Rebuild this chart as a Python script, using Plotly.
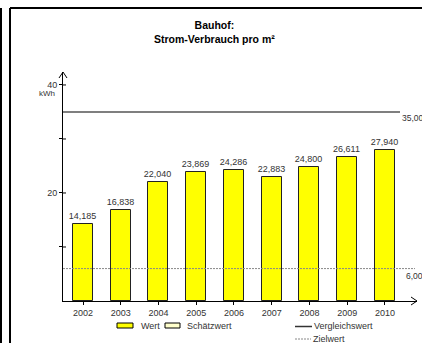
import plotly.graph_objects as go

years = ["2002", "2003", "2004", "2005", "2006", "2007", "2008", "2009", "2010"]
values = [14.185, 16.838, 22.040, 23.869, 24.286, 22.883, 24.800, 26.611, 27.940]
vergleichswert = 35.0
zielwert = 6.0
y_tickvals = [10, 20, 30, 40]
y_ticktext = ["", "20", "", "40"]

W, H = 422, 343
L, R, T, B = 63, 5, 72, 42
PW, PH = W - L - R, H - T - B

def px(x):
    return (x - L) / PW

def py(y):
    return (H - B - y) / PH

def fmt(v):
    return f"{v:.3f}".replace(".", ",")

FAM = "Arial, Liberation Sans"
xi = list(range(len(years)))
fig = go.Figure()
fig.add_trace(go.Bar(
    x=xi, y=values, width=0.53,
    marker=dict(color="#FFFF00", line=dict(color="#222222", width=1)),
    text=[fmt(v) for v in values], textposition="outside", constraintext="none",
    textfont=dict(family=FAM, size=9, color="#333333"),
    cliponaxis=False, showlegend=False,
))

shapes = []
shapes.append(dict(type="line", xref="paper", yref="y", x0=0, x1=px(400), y0=vergleichswert, y1=vergleichswert,
                   line=dict(color="#555555", width=1.5)))
shapes.append(dict(type="line", xref="paper", yref="y", x0=0, x1=px(415), y0=zielwert, y1=zielwert,
                   line=dict(color="#888888", width=1, dash="2px,1px")))
for v in y_tickvals:
    shapes.append(dict(type="line", xref="paper", yref="y", x0=0, x1=3 / PW, y0=v, y1=v,
                       line=dict(color="black", width=1)))
shapes.append(dict(type="line", xref="paper", yref="paper", x0=0, x1=-4 / PW, y0=1, y1=1 - 6 / PH,
                   line=dict(color="black", width=1)))
shapes.append(dict(type="line", xref="paper", yref="paper", x0=0, x1=4 / PW, y0=1, y1=1 - 6 / PH,
                   line=dict(color="black", width=1)))
shapes.append(dict(type="line", xref="paper", yref="paper", x0=1, x1=1 - 6 / PW, y0=0, y1=4 / PH,
                   line=dict(color="black", width=1)))
shapes.append(dict(type="line", xref="paper", yref="paper", x0=1, x1=1 - 6 / PW, y0=0, y1=-4 / PH,
                   line=dict(color="black", width=1)))
# frame
shapes.append(dict(type="line", xref="paper", yref="paper", x0=px(1), x1=px(1), y0=py(8), y1=py(343),
                   line=dict(color="black", width=2)))
shapes.append(dict(type="line", xref="paper", yref="paper", x0=px(10), x1=px(10), y0=py(8), y1=py(343),
                   line=dict(color="black", width=2)))
shapes.append(dict(type="line", xref="paper", yref="paper", x0=px(10), x1=px(422), y0=py(8), y1=py(8),
                   line=dict(color="black", width=2)))
# legend
shapes.append(dict(type="rect", xref="paper", yref="paper", x0=px(117), x1=px(133), y0=py(328), y1=py(323),
                   fillcolor="#FFFF00", line=dict(color="black", width=1)))
shapes.append(dict(type="rect", xref="paper", yref="paper", x0=px(165), x1=px(180), y0=py(328), y1=py(323),
                   fillcolor="#FFFFCC", line=dict(color="black", width=1)))
shapes.append(dict(type="line", xref="paper", yref="paper", x0=px(295), x1=px(312), y0=py(326.5), y1=py(326.5),
                   line=dict(color="#333333", width=1.5)))
shapes.append(dict(type="line", xref="paper", yref="paper", x0=px(295), x1=px(311), y0=py(339), y1=py(339),
                   line=dict(color="#888888", width=1, dash="2px,1px")))

ann_font = dict(family=FAM, size=9, color="#333333")
edge_font = dict(family=FAM, size=8.5, color="#333333")
annotations = [
    dict(text="<b>Bauhof:</b><br><b>Strom-Verbrauch pro m²</b>", xref="paper", yref="paper",
         x=px(214), y=py(32), xanchor="center", yanchor="middle", showarrow=False,
         font=dict(family=FAM, size=10.5, color="black")),
    dict(text="kWh", xref="paper", yref="paper", x=px(57), y=py(93), xanchor="right", yanchor="middle",
         showarrow=False, font=dict(family=FAM, size=8, color="#333333")),
    dict(text=f"{vergleichswert:.2f}".replace(".", ","), xref="paper", yref="paper", x=px(400), y=py(118),
         xanchor="left", yanchor="middle", showarrow=False, font=edge_font),
    dict(text=f"{zielwert:.2f}".replace(".", ","), xref="paper", yref="paper", x=px(404), y=py(276),
         xanchor="left", yanchor="middle", showarrow=False, font=edge_font),
    dict(text="Wert", xref="paper", yref="paper", x=px(139), y=py(326), xanchor="left", yanchor="middle",
         showarrow=False, font=ann_font),
    dict(text="Schätzwert", xref="paper", yref="paper", x=px(185), y=py(326), xanchor="left", yanchor="middle",
         showarrow=False, font=ann_font),
    dict(text="Vergleichswert", xref="paper", yref="paper", x=px(312), y=py(326), xanchor="left", yanchor="middle",
         showarrow=False, font=ann_font),
    dict(text="Zielwert", xref="paper", yref="paper", x=px(311), y=py(339), xanchor="left", yanchor="middle",
         showarrow=False, font=ann_font),
]

fig.update_layout(
    width=W, height=H,
    margin=dict(l=L, r=R, t=T, b=B, pad=0),
    paper_bgcolor="white", plot_bgcolor="white",
    shapes=shapes, annotations=annotations,
    bargap=0,
    xaxis=dict(range=[-0.53, 8.85], tickvals=xi, ticktext=years, showline=True, linecolor="black", linewidth=1,
               ticks="outside", ticklen=3, tickcolor="black", showgrid=False, zeroline=False,
               tickfont=ann_font, fixedrange=True),
    yaxis=dict(range=[0, 42.4], tickvals=y_tickvals, ticktext=y_ticktext, showline=True, linecolor="black",
               linewidth=1, ticks="outside", ticklen=3, tickcolor="black", showgrid=False, zeroline=False,
               tickfont=ann_font, fixedrange=True),
    showlegend=False,
)

fig.write_html("out.html", config={"displayModeBar": False},
               post_script="document.body.style.margin='0';document.body.style.overflow='hidden';")
